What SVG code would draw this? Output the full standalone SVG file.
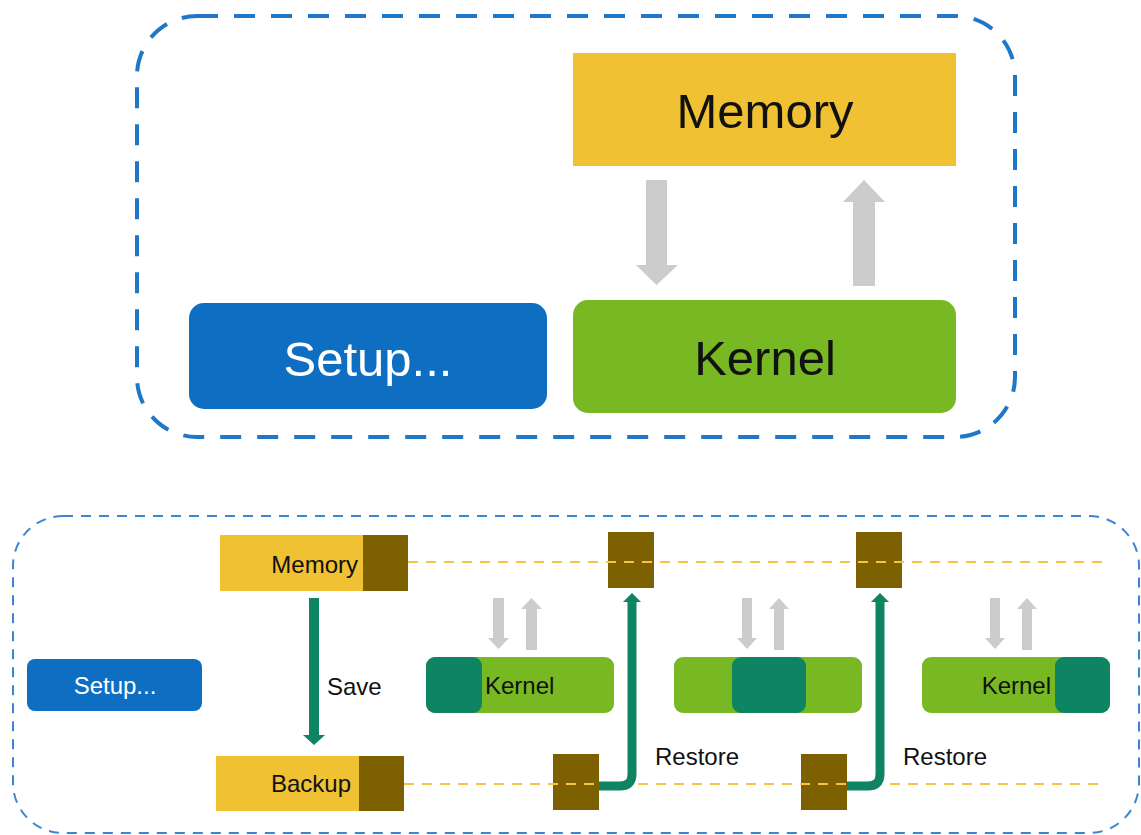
<svg xmlns="http://www.w3.org/2000/svg" width="1141" height="835" viewBox="0 0 1141 835">
<style>
text{font-family:"Liberation Sans",Arial,sans-serif}
.big{font-size:49px}
.sm{font-size:24px}
.blk{fill:#111}
.wht{fill:#fff}
.yel{fill:#f0c133}
.brn{fill:#7d6000}
.grn{fill:#78b822}
.teal{fill:#0e8462}
.gray{fill:#cccccc}
.ydash{stroke:#f5c542;stroke-width:2;stroke-dasharray:10 8;fill:none}
.rest{stroke:#0e8462;stroke-width:9;fill:none}
</style>
<!-- containers -->
<rect id="top-container" x="137" y="16" width="878" height="421" rx="60" fill="none" stroke="#1f77c9" stroke-width="4" stroke-dasharray="21 16"/>
<rect id="bottom-container" x="13" y="516" width="1126" height="317" rx="50" fill="none" stroke="#3a86d6" stroke-width="2" stroke-dasharray="10 8"/>

<!-- top diagram -->
<g id="top-memory">
<rect class="yel" x="573" y="53" width="383" height="113"/>
<text class="big blk" x="765" y="128" text-anchor="middle">Memory</text>
</g>
<g id="top-setup">
<rect x="189" y="303" width="358" height="106" rx="15" fill="#0e6fc2"/>
<text class="big wht" x="368" y="376" text-anchor="middle">Setup...</text>
</g>
<g id="top-kernel">
<rect class="grn" x="573" y="300" width="383" height="113" rx="15"/>
<text class="big blk" x="765" y="375" text-anchor="middle">Kernel</text>
</g>

<!-- bottom diagram nodes -->
<g id="bottom-setup">
<rect x="27" y="659" width="175" height="52" rx="8" fill="#0e6fc2"/>
<text class="sm wht" x="115" y="694" text-anchor="middle">Setup...</text>
</g>
<g id="bottom-memory">
<rect class="yel" x="220" y="535" width="188" height="56"/>
<rect class="brn" x="363" y="535" width="45" height="56"/>
<text class="sm blk" x="358" y="573" text-anchor="end">Memory</text>
</g>
<g id="bottom-backup">
<rect class="yel" x="216" y="756" width="188" height="55"/>
<rect class="brn" x="359" y="756" width="45" height="55"/>
<text class="sm blk" x="351" y="792" text-anchor="end">Backup</text>
</g>
<g id="mem-block-1"><rect class="brn" x="608" y="532" width="46" height="56"/></g>
<g id="mem-block-2"><rect class="brn" x="856" y="532" width="46" height="56"/></g>
<g id="bak-block-1"><rect class="brn" x="553" y="754" width="46" height="56"/></g>
<g id="bak-block-2"><rect class="brn" x="801" y="754" width="46" height="56"/></g>

<g id="kernel-1">
<rect class="grn" x="426" y="657" width="188" height="56" rx="9"/>
<rect class="teal" x="426" y="657" width="56" height="56" rx="9"/>
<text class="sm blk" x="485" y="694">Kernel</text>
</g>
<g id="kernel-2">
<rect class="grn" x="674" y="657" width="188" height="56" rx="9"/>
<rect class="teal" x="732" y="657" width="74" height="56" rx="9"/>
</g>
<g id="kernel-3">
<rect class="grn" x="922" y="657" width="188" height="56" rx="9"/>
<rect class="teal" x="1055" y="657" width="55" height="56" rx="9"/>
<text class="sm blk" x="1051" y="694" text-anchor="end">Kernel</text>
</g>

<!-- connectors -->
<g id="connectors">
<polygon class="gray" points="646,180 667,180 667,265 678,265 656.5,285 636,265 646,265"/>
<polygon class="gray" points="853,286 875,286 875,202 885,202 864,180 843,202 853,202"/>
<line class="ydash" x1="408" y1="562" x2="1110" y2="562"/>
<line class="ydash" x1="404" y1="784" x2="1106" y2="784"/>
<polygon class="gray" points="493,598 504,598 504,638 509,638 498.5,649 488,638 493,638"/>
<polygon class="gray" points="526,650 537,650 537,609 542,609 531.5,598 521,609 526,609"/>
<polygon class="gray" points="742,598 752,598 752,638 757,638 747,649 737,638 742,638"/>
<polygon class="gray" points="774,650 784,650 784,609 789,609 779,598 769,609 774,609"/>
<polygon class="gray" points="990,598 1000,598 1000,638 1005,638 995,649 985,638 990,638"/>
<polygon class="gray" points="1022,650 1032,650 1032,609 1037,609 1027,598 1017,609 1022,609"/>
<polygon class="teal" points="309,598 319,598 319,735 325,735 314,745 303,735 309,735"/>
<text class="sm blk" x="327" y="695">Save</text>
<path class="rest" d="M599,786 H620 Q632,786 632,774 V601"/>
<polygon class="teal" points="623,602 641,602 632,593"/>
<text class="sm blk" x="655" y="765">Restore</text>
<path class="rest" d="M847,786 H868 Q880,786 880,774 V601"/>
<polygon class="teal" points="871,602 889,602 880,593"/>
<text class="sm blk" x="903" y="765">Restore</text>
</g>
</svg>
